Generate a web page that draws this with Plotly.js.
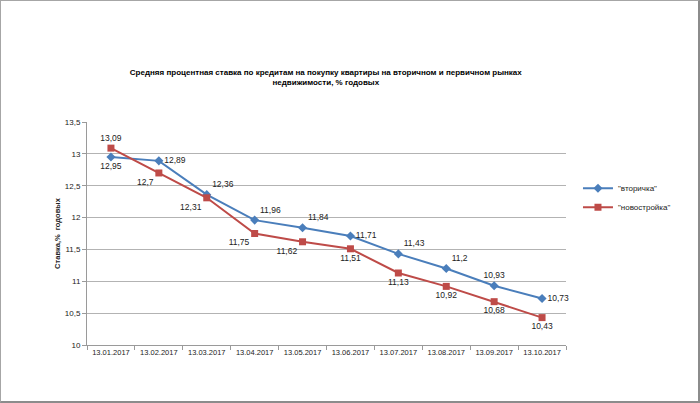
<!DOCTYPE html>
<html><head><meta charset="utf-8">
<script src="https://cdn.plot.ly/plotly-3.0.1.min.js"></script>
<style>
html,body{margin:0;padding:0;background:#fff;}
#wrap{width:700px;height:403px;box-sizing:border-box;border:1px solid #a6a6a6;border-right:2px solid #8c8c8c;border-bottom:2px solid #8c8c8c;overflow:hidden;}
#chart{width:697px;height:400px;}
</style></head>
<body><div id="wrap"><div id="chart"></div></div>
<script>
const categories = ["13.01.2017","13.02.2017","13.03.2017","13.04.2017","13.05.2017","13.06.2017","13.07.2017","13.08.2017","13.09.2017","13.10.2017"];
const secondary = [12.95,12.89,12.36,11.96,11.84,11.71,11.43,11.2,10.93,10.73];
const newBuild = [13.09,12.7,12.31,11.75,11.62,11.51,11.13,10.92,10.68,10.43];
const secondaryName = '"вторичка"';
const newBuildName = '"новостройка"';
const yTicks = [10,10.5,11,11.5,12,12.5,13,13.5];

const fmt = v => String(v).replace('.', ',');
const posSecondary = ["bottom center","middle right","top right","top right","top right","middle right","top right","top right","top center","middle right"];
const posNew = ["top center","bottom left","bottom left","bottom left","bottom left","bottom center","bottom center","bottom center","bottom center","bottom center"];
const lblFont = {family:"Liberation Sans, Arial, sans-serif", size:8.5, color:"#222"};

const traces = [
  {x:categories, y:secondary, name:secondaryName, type:"scatter", mode:"lines+markers+text",
   line:{color:"#4a7ebb", width:2}, marker:{symbol:"diamond", size:7, color:"#4a7ebb"},
   text:secondary.map(fmt), textposition:posSecondary, textfont:lblFont, cliponaxis:false},
  {x:categories, y:newBuild, name:newBuildName, type:"scatter", mode:"lines+markers+text",
   line:{color:"#be4b48", width:2}, marker:{symbol:"square", size:7, color:"#be4b48"},
   text:newBuild.map(fmt), textposition:posNew, textfont:lblFont, cliponaxis:false}
];

const layout = {
  width:697, height:400,
  margin:{l:86, r:132, t:121, b:56},
  paper_bgcolor:"#fff", plot_bgcolor:"#fff",
  separators:", ",
  font:{family:"Liberation Sans, Arial, sans-serif", size:8, color:"#222"},
  title:{text:"<b>Средняя процентная ставка по кредитам на покупку квартиры на вторичном и первичном рынках<br>недвижимости, % годовых</b>",
         x:0.466, xanchor:"center", y:0.815, yanchor:"middle", font:{size:8, family:"Liberation Sans, Arial, sans-serif", color:"#000"}},
  xaxis:{type:"category", range:[-0.5,9.5], showline:true, linecolor:"#9a9a9a", linewidth:1,
         ticks:"outside", tickson:"boundaries", ticklen:4, tickcolor:"#9a9a9a", tickangle:0,
         showgrid:false, tickfont:{size:7.5}, fixedrange:true},
  yaxis:{range:[10,13.5], tickvals:yTicks, ticktext:yTicks.map(fmt), showline:true, linecolor:"#9a9a9a",
         ticks:"outside", ticklen:4, tickcolor:"#9a9a9a",
         showgrid:true, gridcolor:"#b3b3b3", gridwidth:1, zeroline:false, tickfont:{size:8},
         title:{text:"<b>Ставка,%  годовых</b>", font:{size:7.5}, standoff:3}},
  legend:{x:1.025, y:0.66, xanchor:"left", yanchor:"middle", font:{size:8}, tracegroupgap:6,
          itemwidth:30, bgcolor:"rgba(0,0,0,0)"},
  showlegend:true
};
Plotly.newPlot("chart", traces, layout, {staticPlot:true});
</script></body></html>
